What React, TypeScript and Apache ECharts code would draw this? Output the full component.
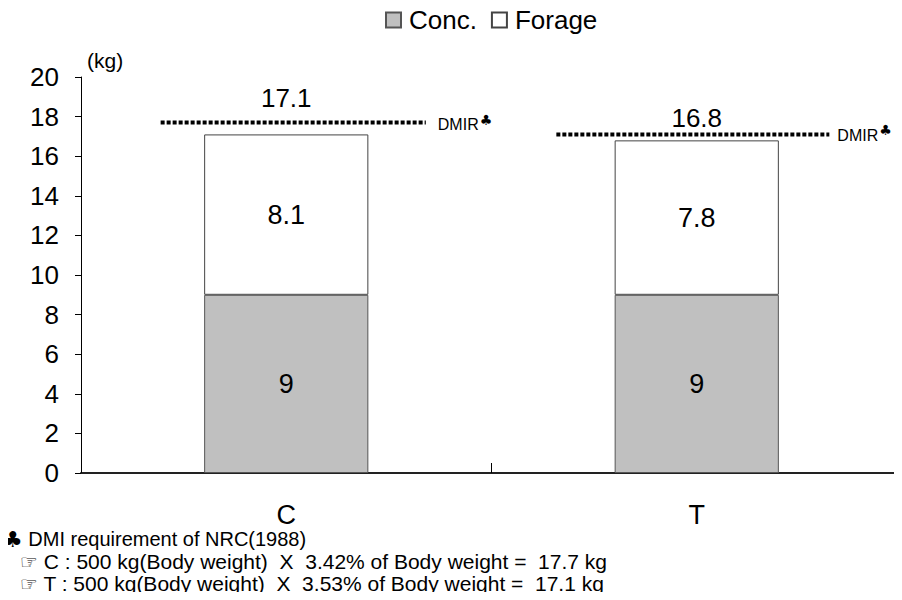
import React, { useEffect, useRef } from "react";
import * as echarts from "echarts";

const categories = ["C", "T"];
const conc = [9, 9];
const forage = [8.1, 7.8];
const totals = [17.1, 16.8];
const dmir = [17.7, 17.1];
const seriesNames = ["Conc.", "Forage"];
const yTicks = { min: 0, max: 20, interval: 2 };
const footnoteHead = "DMI requirement of NRC(1988)";
const footnoteLines = [
  "C : 500 kg(Body weight)  X  3.42% of Body weight =  17.7 kg",
  "T : 500 kg(Body weight)  X  3.53% of Body weight =  17.1 kg",
];

const FONT = "'Liberation Sans', Arial, sans-serif";
const SYM = "'DejaVu Sans', sans-serif";
const totalOffsets = [[0, -18], [0, -4]];
const lineExtents = [[-0.306, 0.34], [-0.342, 0.323]];
const dmirTextOffsets = [[12, 2], [8, 1]];

export default function App() {
  const ref = useRef<HTMLDivElement>(null);
  useEffect(() => {
    if (!ref.current) return;
    const chart = echarts.init(ref.current, undefined, { renderer: "svg" });
    chart.setOption({
      animation: false,
      backgroundColor: "#fff",
      textStyle: { fontFamily: FONT },
      legend: {
        top: 2,
        left: 380,
        icon: "rect",
        itemWidth: 15,
        itemHeight: 15,
        itemGap: 14,
        textStyle: { fontSize: 26, color: "#000", fontFamily: FONT, padding: [0, 0, 0, 3] },
        data: seriesNames,
      },
      grid: { left: 81, right: 0, top: 77, bottom: 127, containLabel: false },
      xAxis: {
        type: "category",
        data: categories,
        axisLine: { lineStyle: { color: "#222", width: 2 } },
        axisTick: { show: true, inside: true, length: 10, lineStyle: { color: "#000" } },
        axisLabel: { fontSize: 27, color: "#000", margin: 28, fontFamily: FONT },
      },
      yAxis: {
        type: "value",
        min: yTicks.min,
        max: yTicks.max,
        interval: yTicks.interval,
        name: "(kg)",
        nameLocation: "end",
        nameGap: 6,
        nameTextStyle: { fontSize: 21, color: "#000", align: "left", padding: [0, 0, 0, 6], fontFamily: FONT },
        splitLine: { show: false },
        axisLine: { show: true, lineStyle: { color: "#000", width: 1 } },
        axisTick: { show: true, length: 6, lineStyle: { color: "#000" } },
        axisLabel: { fontSize: 26, color: "#000", margin: 22, fontFamily: FONT },
      },
      series: [
        {
          name: seriesNames[0],
          type: "bar",
          stack: "total",
          barWidth: "40%",
          data: conc,
          itemStyle: { color: "#c0c0c0", borderColor: "#555", borderWidth: 1 },
          label: { show: true, position: "inside", fontSize: 27, color: "#000", fontFamily: FONT },
        },
        {
          name: seriesNames[1],
          type: "bar",
          stack: "total",
          barWidth: "40%",
          data: forage,
          itemStyle: { color: "#ffffff", borderColor: "#444", borderWidth: 1 },
          label: { show: true, position: "inside", fontSize: 27, color: "#000", fontFamily: FONT },
        },
        {
          name: "total",
          type: "scatter",
          symbolSize: 0,
          itemStyle: { opacity: 1 },
          data: totals.map((v, i) => ({
            value: [i, v],
            label: { offset: totalOffsets[i] },
          })),
          label: {
            show: true,
            position: "top",
            fontSize: 26,
            color: "#000",
            fontFamily: FONT,
            formatter: (p: any) => String(p.value[1]),
          },
          z: 5,
        },
        {
          name: "DMIR",
          type: "custom",
          data: dmir.map((v, i) => [i, v]),
          z: 6,
          renderItem: (params: any, api: any) => {
            const i = params.dataIndex;
            const c = api.coord([api.value(0), api.value(1)]);
            const bw = api.size([1, 0])[0];
            const x1 = c[0] + lineExtents[i][0] * bw;
            const x2 = c[0] + lineExtents[i][1] * bw;
            return {
              type: "group",
              children: [
                {
                  type: "line",
                  shape: { x1, y1: c[1], x2, y2: c[1] },
                  style: { stroke: "#000", lineWidth: 4, lineDash: [4, 2] },
                },
                {
                  type: "text",
                  x: x2 + dmirTextOffsets[i][0],
                  y: c[1] + dmirTextOffsets[i][1],
                  style: {
                    text: "DMIR",
                    verticalAlign: "middle",
                    align: "left",
                    fontSize: 16,
                    fill: "#000",
                    fontFamily: FONT,
                  },
                },
                {
                  type: "text",
                  x: x2 + dmirTextOffsets[i][0] + 42,
                  y: c[1] + dmirTextOffsets[i][1] - 5,
                  style: {
                    text: "♣",
                    verticalAlign: "middle",
                    align: "left",
                    fontSize: 14,
                    fill: "#000",
                    fontFamily: SYM,
                  },
                },
              ],
            };
          },
        },
      ],
      graphic: [
        {
          type: "text",
          left: 3,
          top: 528,
          style: {
            text: "{s|♣} " + footnoteHead,
            fontSize: 20,
            fill: "#000",
            fontFamily: FONT,
            rich: { s: { fontSize: 22, fontFamily: SYM, fill: "#000" } },
          },
        },
        {
          type: "text",
          left: 20,
          top: 551,
          style: {
            text: "{s|☞} " + footnoteLines[0],
            fontSize: 21,
            fill: "#000",
            fontFamily: FONT,
            rich: { s: { fontSize: 20, fontFamily: SYM, fill: "#000" } },
          },
        },
        {
          type: "text",
          left: 20,
          top: 573,
          style: {
            text: "{s|☞} " + footnoteLines[1],
            fontSize: 21,
            fill: "#000",
            fontFamily: FONT,
            rich: { s: { fontSize: 20, fontFamily: SYM, fill: "#000" } },
          },
        },
      ],
    });
    return () => chart.dispose();
  }, []);
  return <div ref={ref} style={{ width: 902, height: 600, margin: -8 }} />;
}
